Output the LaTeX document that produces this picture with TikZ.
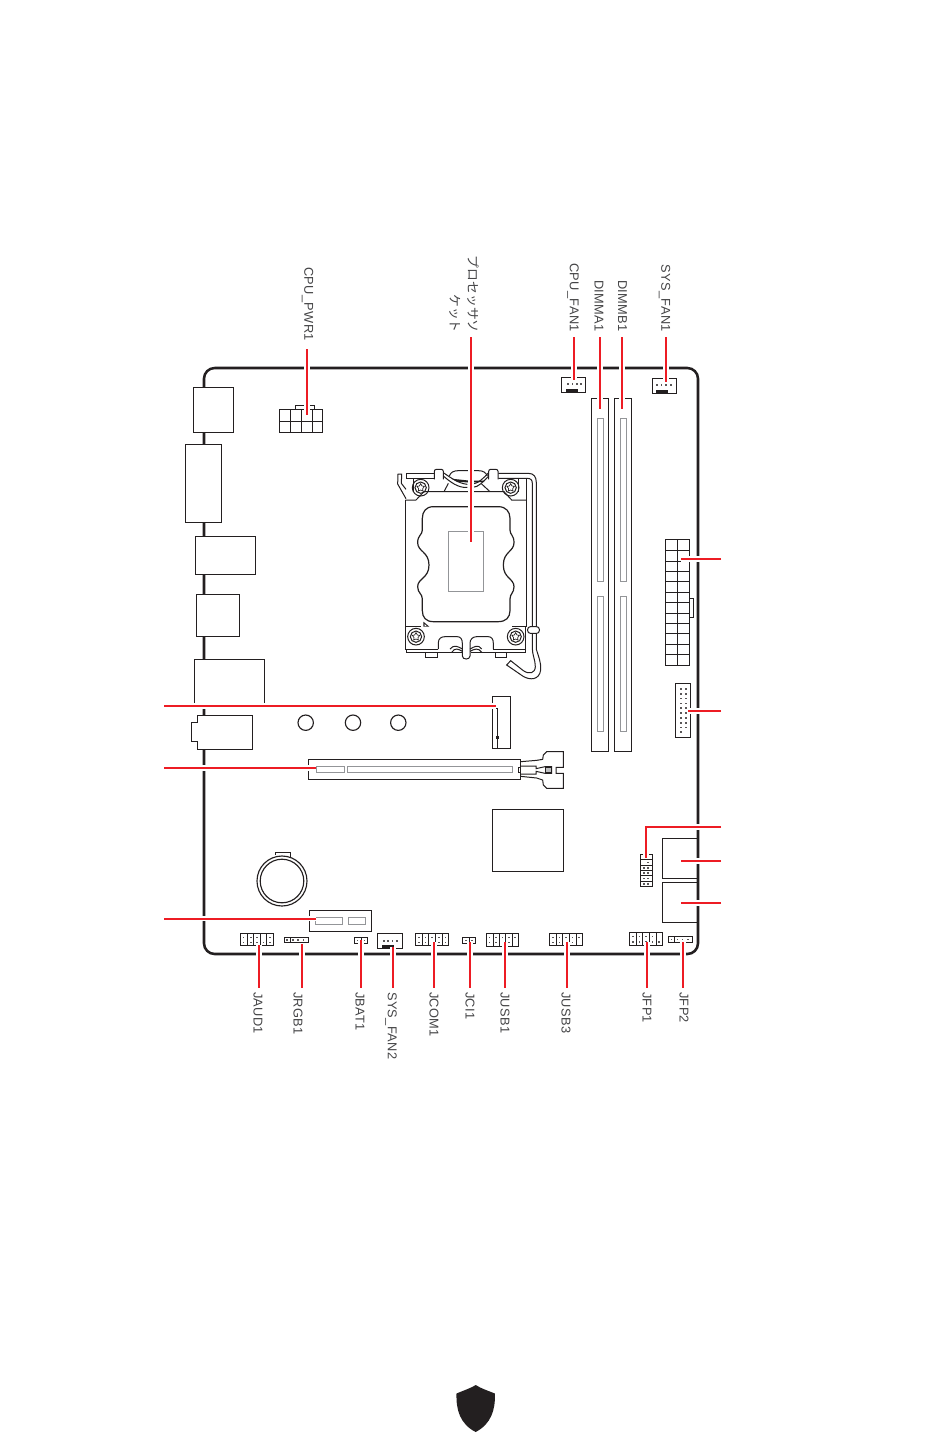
\documentclass[tikz,border=0pt]{standalone}
\usepackage{fontspec}
\setmainfont[LetterSpace=2.5]{Liberation Sans}
\newfontfamily\cjkfont{Noto Sans CJK JP}
\definecolor{msired}{HTML}{ED1C24}
\definecolor{inkk}{HTML}{231F20}
\definecolor{slotgray}{HTML}{939598}
\definecolor{labelgray}{HTML}{444446}
\tikzset{
  board/.style={draw=inkk,line width=1.9pt,rounded corners=8pt},
  part/.style={draw=inkk,line width=0.7pt},
  divider/.style={draw=inkk,line width=0.5pt},
  ioport/.style={draw=inkk,fill=white,line width=0.7pt},
  slot/.style={draw=slotgray,line width=0.7pt},
  wire/.style={draw=inkk,line width=0.75pt},
  halo/.style={draw=white,line width=3.8pt},
  leader/.style={draw=msired,line width=1.5pt},
  toplabel/.style={rotate=-90,anchor=east,inner sep=0pt,text=labelgray,font=\fontsize{9.6}{12}\selectfont},
  botlabel/.style={rotate=-90,anchor=west,inner sep=0pt,text=labelgray,font=\fontsize{9.6}{12}\selectfont},
}
\newcommand{\pinsrow}[2]{\foreach \px in {#1} \fill[inkk!75] (\px-.8,#2-.8) rectangle ++(1.6,1.6);}
\newcommand{\leaderline}[4]{%
  \coordinate (#1a) at (#2); \coordinate (#1b) at (#3);
  \draw[halo] (#1a) -- (#1b);
  \draw[leader] (#1a) -- (#1b);
  #4}
\begin{document}
\begin{tikzpicture}[x=0.75pt,y=-0.75pt]
\useasboundingbox (0,0) rectangle (950,1436);
\fill[white] (0,0) rectangle (950,1436);
% board
\draw[board] (204,368) rectangle (698,954);
% rear I/O
\draw[ioport] (193.5,387.5) rectangle (233.5,432.5);
\draw[ioport] (185.5,444.5) rectangle (221.5,522.5);
\draw[ioport] (195.5,536.5) rectangle (255.5,574.5);
\draw[ioport] (196.5,594.5) rectangle (239.5,636.5);
\draw[ioport] (194.5,659.5) rectangle (264.5,706);
\draw[ioport] (197.5,715.5) -- (252.5,715.5) -- (252.5,749.5) -- (197.5,749.5) -- (197.5,741.5) -- (191.5,741.5) -- (191.5,722.5) -- (197.5,722.5) -- cycle;
% CPU_PWR1
\draw[part] (279.5,409.5) rectangle (322.5,432.5);
\draw[divider] (279.5,421.5) -- (322.5,421.5) (290.5,409.5) -- (290.5,432.5) (301.5,409.5) -- (301.5,432.5) (312.5,409.5) -- (312.5,432.5);
\draw[part] (295.5,409.5) -- (295.5,405.5) -- (314.5,405.5) -- (314.5,409.5);
% fans
\draw[part] (561.5,377.5) rectangle (585.5,392.5);
\fill[inkk] (566,388.5) rectangle (578,393);
\pinsrow{568,572.5,577,581}{384}
\draw[part] (652.5,378.5) rectangle (676.5,393.5);
\fill[inkk] (656,389.5) rectangle (668,394);
\pinsrow{657,661.5,666,671}{385}
\draw[part] (377.5,933.5) rectangle (402.5,948.5);
\fill[inkk] (382,944.5) rectangle (394,949);
\pinsrow{384,388,392.5,397}{941}
% DIMM
\draw[part] (591.5,398.5) rectangle (608.5,751.5);
\draw[part] (614.5,398.5) rectangle (631.5,751.5);
\draw[slot] (597.5,418.5) rectangle (603.5,581.5);
\draw[slot] (597.5,596.5) rectangle (603.5,731.5);
\draw[slot] (620.5,418.5) rectangle (626.5,581.5);
\draw[slot] (620.5,596.5) rectangle (626.5,731.5);
% ATX
\draw[part] (665.5,539.5) rectangle (689.5,665.5);
\draw[divider] (677.5,539.5) -- (677.5,665.5);
\foreach \ry in {550.5,561.5,571.5,581.5,592.5,602.5,613.5,623.5,633.5,644.5,654.5}
  \draw[divider] (665.5,\ry) -- (689.5,\ry);
\draw[part] (689.5,598.5) -- (693.5,598.5) -- (693.5,617.5) -- (689.5,617.5);
% vertical header near ATX
\draw[part] (675.5,683.5) rectangle (690.5,737.5);
\foreach \ry in {689,694,698.5,703.5,708,713,718,723,727.5}
  {\pinsrow{681,686}{\ry}}
\pinsrow{681}{732}
% small vertical header
\draw[part] (640.5,854.5) rectangle (652.5,886.5);
\foreach \ry in {859.5,865.5,870.5,875.5,881.5}
  \draw[divider] (640.5,\ry) -- (652.5,\ry);
\pinsrow{644,648}{857}
\pinsrow{648}{862.5}
\pinsrow{644,648}{868}
\pinsrow{644,648}{873}
\pinsrow{644,648}{878.5}
\pinsrow{644,648}{884}
% right ports
\draw[part] (698,838.5) -- (662.5,838.5) -- (662.5,878.5) -- (698,878.5);
\draw[part] (698,882.5) -- (662.5,882.5) -- (662.5,922.5) -- (698,922.5);
% M.2
\draw[part] (492.5,696.5) rectangle (510.5,748.5);
\draw[part] (492.5,708.5) -- (497.5,708.5) -- (497.5,748.5);
\draw[part,line width=0.45pt] (496,736) rectangle (498.5,738.5);
% screw holes
\foreach \hx in {305.7,353,398.3}
  \draw[part,line width=0.85pt] (\hx,722.7) circle (7.7);
% PCIe x16
\draw[part] (308.5,759.5) rectangle (520.5,779.5);
\draw[slot] (316,766.5) rectangle (344.5,772.5);
\draw[slot] (347.5,766.5) rectangle (512.5,772.5);
\begin{scope}[shift={(280,680)},x=0.25pt,y=-0.25pt]
\draw[wire] (722,245) -- (770,241) -- (788,238) -- (790,225) -- (800,215) -- (850,215) -- (850,262) -- (828,262) -- (828,280) -- (850,280) -- (850,325) -- (800,325) -- (790,315) -- (788,300) -- (770,294) -- (722,289);
\draw[wire] (722,262) -- (715,262) -- (715,276) -- (722,276);
\draw[wire] (722,258) -- (768,258) -- (768,266) -- (795,260) -- (815,260) -- (815,280) -- (795,280) -- (768,274) -- (768,282) -- (722,282);
\draw[wire,fill=slotgray!60] (795,262) rectangle (813,278);
\end{scope}
% chip
\draw[part] (492.5,809.5) rectangle (563.5,871.5);
% battery
\draw[part] (275.5,855) -- (275.5,852.5) -- (290.5,852.5) -- (290.5,858);
\draw[part,fill=white,line width=0.85pt] (282,881) circle (25);
\draw[part,line width=0.85pt] (282,881) circle (21.8);
% PCIe x1
\draw[part] (309.5,910.5) rectangle (371.5,931.5);
\draw[slot] (315.5,917.5) rectangle (342.5,924.5);
\draw[slot] (348.5,917.5) rectangle (365.5,924.5);
% bottom headers
\draw[part] (240.5,933.5) rectangle (273.5,945.5);
\foreach \dx in {247,253.5,260,266.5} \draw[divider] (\dx,933.5) -- (\dx,945.5);
\pinsrow{243.5,250.7,257,270}{937.5}
\pinsrow{243.5,250.7,257,263.3,270}{942.5}
\draw[part] (284.5,937.5) rectangle (308.5,942.5);
\draw[divider] (290,937.5) -- (290,942.5);
\pinsrow{287,293,298,303.5}{940}
\draw[part] (354.5,937.5) rectangle (367.5,943.5);
\draw[divider] (361,937.5) -- (361,943.5);
\pinsrow{357.5,364}{940.5}
\draw[part] (415.5,933.5) rectangle (448.5,945.5);
\foreach \dx in {422,428.5,435.5,442} \draw[divider] (\dx,933.5) -- (\dx,945.5);
\pinsrow{418.7,425.3,432,439,445.5}{937.5}
\pinsrow{418.7,425.3,432,439,445.5}{942.5}
\draw[part] (462.5,937.5) rectangle (475.5,943.5);
\draw[divider] (469,937.5) -- (469,943.5);
\pinsrow{466,472}{940.5}
\draw[part] (486.5,933.5) rectangle (518.5,946.5);
\foreach \dx in {493,499.5,505.5,512} \draw[divider] (\dx,933.5) -- (\dx,946.5);
\pinsrow{489.5,496,502.5,509,515}{937.5}
\pinsrow{489.5,496,502.5,509}{942.5}
\draw[part] (549.5,933.5) rectangle (582.5,945.5);
\foreach \dx in {556,562.5,569.5,576} \draw[divider] (\dx,933.5) -- (\dx,945.5);
\pinsrow{552.7,559.3,566,572.5,579}{937.5}
\pinsrow{552.7,559.3,566,572.5}{942.5}
\draw[part] (629.5,932.5) rectangle (662.5,945.5);
\foreach \dx in {636,642.5,649.5,656} \draw[divider] (\dx,932.5) -- (\dx,945.5);
\pinsrow{632.7,639.3,646,652.5}{936.5}
\pinsrow{632.7,639.3,646,652.5,659}{942}
\draw[part] (668.5,936.5) rectangle (692.5,942.5);
\draw[divider] (674.5,936.5) -- (674.5,942.5);
\pinsrow{671.5,677.5,682.5,688}{939.5}
% socket
\begin{scope}[shift={(380,450)},x=0.25pt,y=-0.25pt]
% gray centre
\draw[slot] (206,244) rectangle (310,424);
% opening
\draw[wire,line width=0.9pt] (160,170) -- (355,170) .. controls (378,170) and (390,185) .. (390,205) -- (390,240) .. controls (390,255) and (402,255) .. (402,278) .. controls (402,305) and (370,305) .. (370,345) .. controls (370,385) and (402,385) .. (402,410) .. controls (402,430) and (390,430) .. (390,447) -- (390,482) .. controls (390,502) and (378,515) .. (355,515) -- (160,515) .. controls (138,515) and (127,502) .. (127,482) -- (127,447) .. controls (127,430) and (113,430) .. (113,410) .. controls (113,385) and (147,385) .. (147,345) .. controls (147,305) and (113,305) .. (113,278) .. controls (113,255) and (127,255) .. (127,240) -- (127,205) .. controls (127,185) and (138,170) .. (160,170) -- cycle;
% body
\draw[wire] (76,150) -- (108,150) -- (132,125) -- (372,125) -- (395,150) -- (440,150);
\draw[wire] (76,150) -- (76,530) -- (122,530);
\draw[wire] (440,85) -- (440,530) -- (395,530);
\draw[wire] (80,70) -- (80,85) -- (163,85) (80,70) -- (163,70);
\draw[wire] (355,70) -- (445,70) .. controls (461,70) and (469,80) .. (469,98) -- (469,530);
\draw[wire] (355,85) -- (442,85) .. controls (452,85) and (457,90) .. (457,100) -- (457,530);
\draw[wire] (100,85) -- (100,125) (415,85) -- (415,125);
% left tail
\draw[wire] (78,118) -- (64,100) -- (65,72) -- (54,72) -- (53,102) -- (78,146);
% clips
\draw[wire,rounded corners=1.5pt] (163,88) -- (163,58) -- (190,58) -- (190,88);
\draw[wire,rounded corners=1.5pt] (326,88) -- (326,58) -- (354,58) -- (354,88);
% centre bulge
\draw[wire] (208,78) .. controls (212,66) and (222,62) .. (235,62) -- (295,62) .. controls (310,62) and (318,68) .. (322,78);
\draw[wire] (190,78) .. controls (210,95) and (235,115) .. (262,112);
\draw[wire] (190,68) .. controls (215,85) and (235,100) .. (262,103);
\draw[wire] (326,78) .. controls (310,95) and (295,112) .. (278,112);
\draw[wire] (326,68) .. controls (310,85) and (295,100) .. (278,102);
\fill[inkk] (214,86) -- (270,92) -- (312,92) -- (312,96) -- (270,98) -- (232,95) -- cycle;
\draw[wire] (205,100) -- (192,125) (305,102) -- (330,125);
% screws
\foreach \sx/\sy in {122/113,392/113,108/560,407/560}{
  \draw[wire] (\sx,\sy) circle (25);
  \draw[wire] (\sx,\sy) circle (17);
  \draw[wire,line width=0.5pt] (\sx,\sy-12) -- (\sx+4,\sy-5) -- (\sx+11,\sy-4) -- (\sx+6,\sy+3) -- (\sx+7,\sy+10) -- (\sx,\sy+7) -- (\sx-7,\sy+10) -- (\sx-6,\sy+3) -- (\sx-11,\sy-4) -- (\sx-4,\sy-5) -- cycle;
}
% corner triangle
\fill[inkk] (130,515) -- (148,530) -- (130,530) -- cycle;
\fill[white] (134,522) -- (140,528) -- (134,528) -- cycle;
% bottom
\draw[wire] (76,530) -- (76,597) -- (175,597);
\draw[wire] (78,597) -- (78,607) -- (247,607);
\draw[wire] (437,530) -- (437,607) -- (272,607);
\draw[wire] (340,597) -- (437,597);
\draw[wire] (175,597) -- (175,578) .. controls (175,565) and (185,560) .. (195,560) -- (232,560) .. controls (242,560) and (247,568) .. (247,580) -- (247,618) .. controls (247,630) and (270,630) .. (270,618) -- (270,580) .. controls (270,568) and (278,560) .. (290,560) -- (325,560) .. controls (335,560) and (340,568) .. (340,580) -- (340,597);
\draw[wire] (210,597) .. controls (222,582) and (235,590) .. (247,597) (270,597) .. controls (283,590) and (295,582) .. (305,597);
\draw[wire] (215,607) .. controls (225,592) and (235,597) .. (247,604) (270,604) .. controls (283,597) and (295,592) .. (305,607);
\draw[wire] (137,607) -- (137,622) -- (172,622) -- (172,607);
\draw[wire] (345,607) -- (345,622) -- (378,622) -- (378,607);
% lever lower part
\draw[wire,rounded corners=2pt,fill=white] (443,530) -- (478,530) -- (478,550) -- (443,550) -- cycle;
\draw[wire] (469,550) -- (469,598) .. controls (476,620) and (484,640) .. (482,660) .. controls (478,690) and (450,692) .. (428,678) -- (380,645) -- (392,632) -- (430,662) .. controls (448,674) and (465,670) .. (466,650) .. controls (466,630) and (457,615) .. (457,595) -- (457,550);
\end{scope}
% shield
\fill[inkk] (475.7,1385) .. controls (482,1389) and (489,1391) .. (494.9,1393.5) .. controls (495.5,1410) and (491,1424) .. (475.7,1432) .. controls (460,1424) and (456,1410) .. (456.5,1393.5) .. controls (462,1391) and (469,1389) .. (475.7,1385) -- cycle;
% leaders
\leaderline{pwr}{307,349}{307,415}{}
\leaderline{cpu}{471,337}{471,541.5}{}
\leaderline{cfan}{574,337}{574,380}{}
\leaderline{dima}{600,337}{600,409}{}
\leaderline{dimb}{622,337}{622,409}{}
\leaderline{sfan}{666,337}{666,382}{}
\leaderline{atx}{721,559}{681,559}{}
\leaderline{hdr}{721,711}{688,711}{}
\coordinate (tpma) at (721,827); \coordinate (tpmm) at (646,827); \coordinate (tpmb) at (646,858);
\draw[halo] (tpma) -- (tpmm) -- (tpmb);
\draw[leader] (tpma) -- (tpmm) -- (tpmb);
\leaderline{porta}{721,861}{681,861}{}
\leaderline{portb}{721,903}{681,903}{}
\leaderline{m2}{164,706}{496,706}{}
\leaderline{pea}{164,768}{316,768}{}
\leaderline{peb}{164,918.7}{316,918.7}{}
\leaderline{jaud}{259,945}{259,988}{}
\leaderline{jrgb}{302,944}{302,988}{}
\leaderline{jbat}{361,940}{361,988}{}
\leaderline{sfb}{393,947}{393,988}{}
\leaderline{jcom}{434,942}{434,988}{}
\leaderline{jci}{470,942}{470,988}{}
\leaderline{jusa}{505,942}{505,988}{}
\leaderline{jusb}{567,942}{567,988}{}
\leaderline{jfpa}{647,942}{647,988}{}
\leaderline{jfpb}{683,942}{683,988}{}
% labels
\node[toplabel] (lpwr) at (307.5,341) {CPU\_PWR1};
\node[toplabel,align=right,font=\cjkfont\fontsize{9.6}{13.5}\selectfont] (lcpu) at (464,333) {プロセッサソ\\ケット};
\node[toplabel] (lcfan) at (573,332) {CPU\_FAN1};
\node[toplabel] (ldima) at (599,332) {DIMMA1};
\node[toplabel] (ldimb) at (622.5,332) {DIMMB1};
\node[toplabel] (lsfan) at (664.5,332) {SYS\_FAN1};
\node[botlabel] (ljaud) at (258,992) {JAUD1};
\node[botlabel] (ljrgb) at (298,992) {JRGB1};
\node[botlabel] (ljbat) at (360,992) {JBAT1};
\node[botlabel] (lsfb) at (391,992) {SYS\_FAN2};
\node[botlabel] (ljcom) at (434,992) {JCOM1};
\node[botlabel] (ljci) at (470,992) {JCI1};
\node[botlabel] (ljusa) at (505,992) {JUSB1};
\node[botlabel] (ljusb) at (566,992) {JUSB3};
\node[botlabel] (ljfpa) at (647,992) {JFP1};
\node[botlabel] (ljfpb) at (684,992) {JFP2};
\end{tikzpicture}
\end{document}
